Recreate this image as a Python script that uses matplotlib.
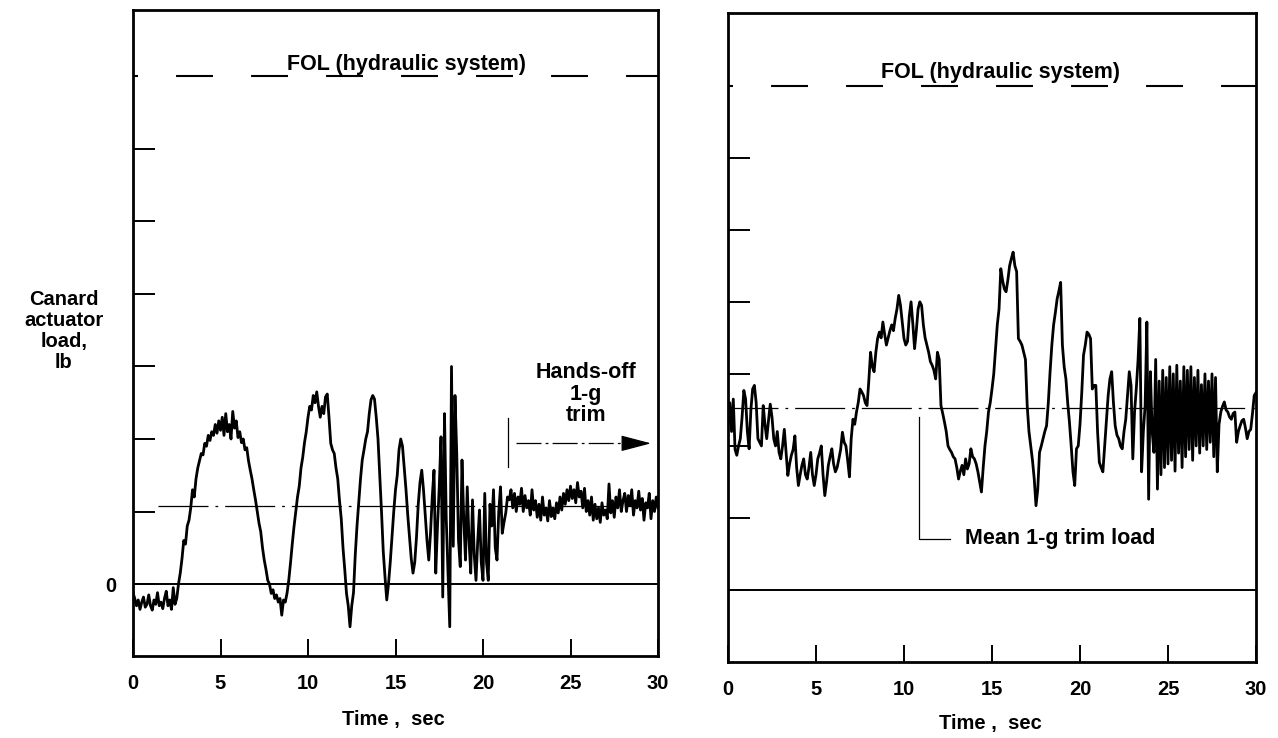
import numpy as np
import matplotlib
matplotlib.use("Agg")
import matplotlib.pyplot as plt

plt.rcParams['font.family'] = ['Liberation Sans', 'DejaVu Sans']
plt.rcParams['lines.scale_dashes'] = False

# ---------------- data (load in tick units, sampled every 0.1 s) ----------------
sample_step = 0.1
left_load = [
    -0.12, -0.2, -0.3, -0.22, -0.35, -0.25, -0.18, -0.32, -0.28, -0.15,
    -0.3, -0.36, -0.22, -0.28, -0.12, -0.3, -0.25, -0.34, -0.2, -0.1,
    -0.3, -0.22, -0.35, -0.05, -0.28, -0.2, 0.0, 0.15, 0.35, 0.6,
    0.55, 0.8, 0.88, 1.05, 1.3, 1.2, 1.45, 1.6, 1.7, 1.8,
    1.78, 1.94, 1.9, 2.05, 1.98, 2.1, 2.05, 2.2, 2.08, 2.25,
    2.12, 2.3, 2.05, 2.35, 2.1, 2.2, 2.0, 2.38, 2.15, 2.25,
    2.02, 2.1, 1.95, 2.0, 1.85, 1.88, 1.7, 1.57, 1.45, 1.3,
    1.16, 1.0, 0.84, 0.72, 0.5, 0.33, 0.2, 0.05, 0.0, -0.13,
    -0.08, -0.2, -0.15, -0.25, -0.2, -0.43, -0.22, -0.25, -0.13, 0.05,
    0.29, 0.55, 0.79, 1.0, 1.2, 1.35, 1.6, 1.75, 1.95, 2.1,
    2.3, 2.45, 2.4, 2.6, 2.5, 2.65, 2.45, 2.3, 2.45, 2.35,
    2.58, 2.62, 2.3, 1.94, 1.85, 1.8, 1.6, 1.45, 1.15, 0.9,
    0.5, 0.2, -0.13, -0.3, -0.59, -0.3, -0.12, 0.4, 0.8, 1.12,
    1.45, 1.71, 1.85, 2.0, 2.1, 2.35, 2.54, 2.6, 2.55, 2.3,
    2.0, 1.5, 1.0, 0.45, 0.1, -0.22, 0.0, 0.3, 0.65, 1.0,
    1.3, 1.5, 1.85, 2.0, 1.9, 1.6, 1.3, 0.95, 0.65, 0.35,
    0.15, 0.3, 0.65, 1.1, 1.4, 1.57, 1.3, 0.95, 0.6, 0.33,
    0.7, 1.2, 1.57, 0.15, 0.8, 1.34, 2.03, -0.18, 2.35, 0.9,
    0.15, -0.59, 3.0, 0.52, 2.6, 1.8, 0.6, 0.24, 1.71, 0.9,
    0.33, 1.34, 0.6, 0.15, 1.16, 0.4, 0.05, 0.6, 1.02, 0.3,
    0.05, 1.25, 0.3, 0.05, 1.1, 0.8, 1.3, 0.5, 0.33, 1.0,
    1.34, 0.7, 0.85, 0.98, 1.2, 1.16, 1.3, 1.05, 1.25, 1.0,
    1.2, 1.1, 1.32, 1.0, 1.22, 1.05, 1.15, 0.95, 1.3, 1.02,
    1.15, 0.92, 1.1, 0.88, 1.2, 0.95, 1.05, 0.87, 1.15, 0.93,
    1.05, 0.9, 1.12, 0.98, 1.2, 1.02, 1.25, 1.1, 1.3, 1.15,
    1.35, 1.18, 1.3, 1.12, 1.4, 1.2, 1.28, 1.05, 1.32, 1.0,
    1.15, 0.95, 1.2, 0.88, 1.1, 0.9, 1.05, 0.85, 1.12, 0.95,
    1.02, 0.9, 1.38, 0.98, 1.15, 0.92, 1.2, 1.05, 1.3, 1.0,
    1.15, 1.25, 1.0, 1.22, 1.08, 1.3, 0.95, 1.15, 1.05, 1.28,
    1.02, 1.18, 0.88, 1.12, 1.05, 1.25, 0.9, 1.15, 1.0, 1.2,
    1.05,
]
right_load = [
    2.3, 2.6, 2.2, 2.65, 1.95, 1.87, 2.0, 2.1, 2.4, 2.77,
    2.65, 2.2, 1.96, 2.5, 2.79, 2.84, 2.6, 2.1, 2.05, 2.0,
    2.56, 2.3, 2.1, 2.35, 2.58, 2.4, 2.1, 2.0, 2.2, 1.91,
    1.82, 2.0, 2.23, 1.9, 1.59, 1.75, 1.87, 1.95, 2.14, 1.7,
    1.45, 1.6, 1.73, 1.82, 1.6, 1.54, 1.7, 1.91, 1.6, 1.45,
    1.6, 1.82, 1.9, 2.0, 1.6, 1.31, 1.5, 1.73, 1.85, 1.96,
    1.75, 1.64, 1.7, 1.82, 1.95, 2.19, 2.05, 2.0, 1.8, 1.57,
    2.1, 2.37, 2.3, 2.47, 2.6, 2.79, 2.75, 2.7, 2.6, 2.56,
    2.9, 3.3, 3.1, 3.03, 3.3, 3.49, 3.58, 3.5, 3.72, 3.55,
    3.4, 3.5, 3.6, 3.68, 3.6, 3.77, 3.9, 4.09, 3.95, 3.72,
    3.49, 3.4, 3.45, 3.8, 4.0, 3.7, 3.35, 3.6, 3.9, 4.0,
    3.95, 3.68, 3.5, 3.4, 3.3, 3.17, 3.12, 3.05, 2.93, 3.3,
    3.2, 2.56, 2.45, 2.33, 2.2, 2.0, 1.95, 1.91, 1.85, 1.82,
    1.7, 1.54, 1.65, 1.73, 1.6, 1.82, 1.68, 1.75, 1.96, 1.85,
    1.82, 1.75, 1.64, 1.5, 1.36, 1.7, 2.0, 2.2, 2.47, 2.6,
    2.79, 3.0, 3.35, 3.68, 3.9, 4.46, 4.3, 4.18, 4.14, 4.3,
    4.5, 4.6, 4.69, 4.5, 4.42, 3.49, 3.45, 3.4, 3.3, 3.2,
    2.56, 2.2, 2.0, 1.8, 1.54, 1.17, 1.4, 1.91, 2.0, 2.1,
    2.2, 2.28, 2.6, 3.03, 3.4, 3.68, 3.85, 4.04, 4.15, 4.27,
    3.4, 3.1, 2.93, 2.6, 2.33, 2.0, 1.64, 1.45, 1.96, 2.0,
    2.3, 2.74, 3.26, 3.4, 3.58, 3.55, 3.49, 2.79, 2.84, 2.84,
    2.19, 1.77, 1.7, 1.64, 2.0, 2.37, 2.7, 2.93, 3.03, 2.6,
    2.28, 2.15, 2.1, 2.0, 1.96, 2.2, 2.37, 2.7, 3.03, 2.84,
    1.82, 2.47, 2.8, 3.2, 3.77, 1.64, 2.2, 2.56, 3.72, 1.26,
    3.03, 2.2, 1.91, 3.2, 1.4, 2.9, 1.6, 3.05, 1.7, 2.95,
    1.75, 3.1, 1.8, 3.0, 1.65, 3.12, 1.9, 2.9, 1.7, 3.1,
    1.85, 3.05, 1.95, 3.1, 1.8, 2.95, 2.0, 3.05, 1.9, 2.85,
    2.0, 3.0, 1.95, 2.9, 2.05, 3.0, 1.85, 2.95, 1.64, 2.3,
    2.47, 2.55, 2.61, 2.5, 2.47, 2.4, 2.37, 2.45, 2.47, 2.05,
    2.2, 2.28, 2.35, 2.37, 2.25, 2.1, 2.2, 2.23, 2.45, 2.7,
    2.74,
]
x_ticks = [0, 5, 10, 15, 20, 25, 30]
x_tick_labels = ["0", "5", "10", "15", "20", "25", "30"]
y_ticks = [0, 1, 2, 3, 4, 5, 6]
fol_level = 7.0
left_mean_trim = 1.08
right_mean_trim = 2.53

left_time = np.arange(len(left_load)) * sample_step
right_time = np.arange(len(right_load)) * sample_step

# ---------------- figure ----------------
W, H = 1278, 738
fig = plt.figure(figsize=(W / 100, H / 100), dpi=100)

def px_axes(x0, y0, x1, y1):
    return fig.add_axes([x0 / W, 1 - y1 / H, (x1 - x0) / W, (y1 - y0) / H])

axL = px_axes(133, 10, 658, 656)
axR = px_axes(728, 13, 1256, 662)
axL.set_ylim(-0.993, 7.917)
axR.set_ylim(-1.0, 8.01)

FS = 14.5
FS2 = 15.5
for ax in (axL, axR):
    ax.set_xlim(0, 30)
    for s in ax.spines.values():
        s.set_linewidth(2.0)
    ax.set_xticks(x_ticks)
    ax.set_xticklabels(x_tick_labels, fontsize=FS, fontweight='bold')
    ax.set_yticks(y_ticks)
    ax.tick_params(axis='x', direction='in', length=12, width=1.4, pad=13)
    ax.tick_params(axis='y', direction='in', length=16, width=1.4, pad=12)
    ax.axhline(0, color='k', lw=1.4)
    ax.plot([0, 30], [fol_level, fol_level], color='k', lw=1.5,
            linestyle=(23, (26.6, 27.4)))

axL.set_yticklabels(["0", "", "", "", "", "", ""], fontsize=FS, fontweight='bold')
axR.set_yticklabels([])

# mean 1-g trim lines
axL.plot([1.4, 30], [left_mean_trim, left_mean_trim], color='k', lw=0.9,
         linestyle=(0, (36, 5, 2, 5)))
axR.plot([0, 30], [right_mean_trim, right_mean_trim], color='k', lw=0.9,
         linestyle=(0, (36, 5, 2, 5)))

# traces
axL.plot(left_time, left_load, color='k', lw=2.0)
axR.plot(right_time, right_load, color='k', lw=2.0)

# FOL labels
axL.text(15.64, 7.17, "FOL (hydraulic system)", ha='center', va='center',
         fontsize=FS2, fontweight='bold')
axR.text(15.5, 7.19, "FOL (hydraulic system)", ha='center', va='center',
         fontsize=FS2, fontweight='bold')

# Hands-off annotation (left)
axL.text(25.9, 2.62, "Hands-off\n1-g\ntrim", ha='center', va='center',
         fontsize=FS2, fontweight='bold', linespacing=1.05)
axL.plot([21.4, 21.4], [1.61, 2.29], color='k', lw=0.9)
axL.plot([21.9, 28.6], [1.94, 1.94], color='k', lw=0.9,
         linestyle=(0, (18, 3, 2, 3)))
axL.annotate("", xy=(29.6, 1.94), xytext=(28.4, 1.94),
             arrowprops=dict(arrowstyle='-|>,head_length=0.95,head_width=0.25',
                             lw=0.9, color='k', shrinkA=0, shrinkB=0,
                             mutation_scale=20))

# Mean 1-g trim load annotation (right)
axR.plot([10.85, 10.85, 12.6], [2.4, 0.71, 0.71], color='k', lw=0.9)
axR.text(13.47, 0.71, "Mean 1-g trim load", ha='left', va='center',
         fontsize=FS2, fontweight='bold')

# axis labels
fig.text(64 / W, 1 - 331 / H, "Canard\nactuator\nload,\nlb", ha='center',
         va='center', fontsize=FS, fontweight='bold', linespacing=1.12)
fig.text(393 / W, 1 - 720 / H, "Time ,  sec", ha='center', va='center',
         fontsize=FS, fontweight='bold')
fig.text(990 / W, 1 - 723 / H, "Time ,  sec", ha='center', va='center',
         fontsize=FS, fontweight='bold')

fig.savefig("out.png", dpi=100)
